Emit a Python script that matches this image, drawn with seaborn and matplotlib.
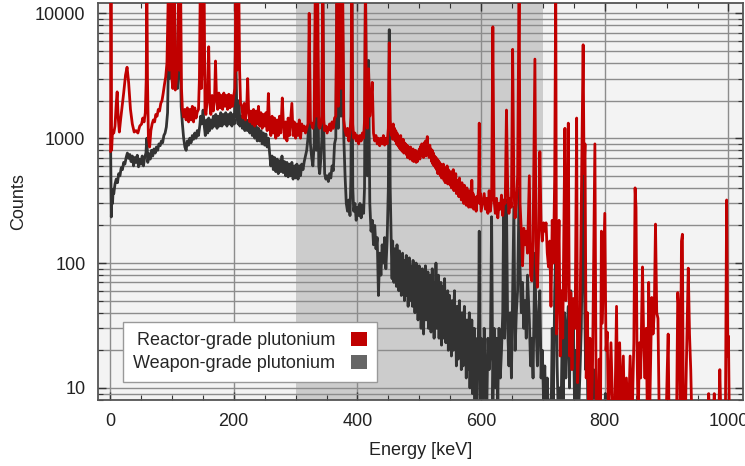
import matplotlib
matplotlib.use("Agg")
import matplotlib.pyplot as plt
import numpy as np
import pandas as pd
import seaborn as sns
from matplotlib.patches import Patch
from matplotlib.ticker import LogLocator, MultipleLocator, NullFormatter, FuncFormatter, FixedLocator

sns.set_style("ticks")
plt.rcParams['font.family'] = ['Liberation Sans', 'DejaVu Sans']

# ---------------- data ----------------
series_labels = ["Reactor-grade plutonium", "Weapon-grade plutonium"]
x_ticks = [0, 200, 400, 600, 800, 1000]
y_ticks = [10, 100, 1000, 10000]
shaded_band = [300, 700]

# Reactor-grade, 0 - 453 keV
reactor_low_energy = [
    0.8, 1.5, 2.5, 4, 6, 8, 10, 11.5, 13, 15,
    17, 19, 22, 25, 27.5, 30, 33, 36, 39, 42,
    45, 48, 51, 53, 55, 57, 58.5, 59.5, 60.5, 62,
    64, 66, 68, 70, 72, 74, 76, 78, 80, 82,
    84, 86, 88, 90, 92, 94.7, 96, 98.4, 100, 101.5,
    103.7, 105.5, 107, 109, 111, 112.5, 114, 115.5, 117, 119,
    121, 123, 125, 127, 129, 131, 133, 135, 137, 139,
    141, 143, 144.5, 146, 147.5, 149, 150.5, 152, 153.5, 155,
    157, 159.5, 161, 163, 165, 167, 169, 170.5, 172, 174,
    176, 178, 180, 182, 184, 186, 188, 190, 192, 194,
    196, 198, 200, 202, 203.5, 205, 206.5, 208, 209.5, 211,
    213, 215, 217, 219, 221, 222.5, 224, 226, 228, 230,
    232, 234, 236, 238, 240, 242, 244, 246, 248, 250,
    252, 254, 256, 258, 260, 262, 264, 266, 268, 270,
    272, 274, 276, 278.5, 280, 282, 284, 286, 288, 290,
    292, 294, 296, 298, 300, 302, 304, 306, 308, 310,
    312, 314, 316, 318, 320, 322, 324, 326, 328, 330,
    332, 333.5, 335.5, 337.5, 339, 341, 342.5, 344, 345.5, 347,
    349, 351, 353, 355, 357, 359, 361, 363, 365, 367,
    369, 371.5, 373.5, 376, 378, 380, 382, 384, 386, 388,
    389.5, 391, 392.5, 394, 396, 398, 400, 402, 404, 406,
    408, 410, 411.5, 413, 414.5, 416, 418, 420, 422, 424,
    426, 428, 430, 432, 434, 436, 438, 440, 442, 444,
    446, 448, 450, 451.5, 453,
]
reactor_low_counts = [
    780, 15000, 800, 1150, 1100, 1250, 1900, 2350, 1500, 1120,
    1400, 1700, 2300, 3200, 3700, 2800, 1700, 1300, 1120, 1150,
    1100, 1250, 1300, 1450, 1350, 1600, 3000, 20000, 3000, 1000,
    850, 1150, 1300, 1400, 1350, 1550, 1500, 1700, 1650, 1900,
    2000, 2300, 2700, 3100, 4000, 20000, 3500, 20000, 3000, 2500,
    20000, 2430, 2800, 4000, 20000, 3500, 20000, 2500, 1700, 1480,
    1700, 1400, 1750, 1350, 1700, 1400, 1800, 1350, 1750, 1450,
    1620, 1700, 3000, 20000, 2500, 3500, 20000, 20000, 1700, 1550,
    2000, 5400, 2000, 1550, 2200, 1650, 2100, 4150, 2200, 1700,
    2300, 1750, 2200, 1700, 2300, 1800, 2200, 1700, 2250, 1750,
    2200, 1800, 2200, 2500, 20000, 3500, 4500, 20000, 3500, 1900,
    1800, 1450, 1900, 1400, 1750, 3000, 1700, 1350, 1650, 1300,
    1700, 1250, 1650, 1300, 1800, 1250, 1600, 1200, 1550, 1250,
    1600, 1150, 2280, 1250, 1050, 1500, 1100, 1450, 1000, 1400,
    1050, 1500, 1100, 2100, 1400, 1000, 1350, 950, 1450, 1050,
    1400, 1900, 1050, 1350, 1000, 1300, 1050, 1400, 1000, 1300,
    1150, 1250, 1100, 1200, 1300, 10000, 1350, 1300, 1200, 1400,
    20000, 1500, 20000, 1250, 1200, 1300, 1500, 20000, 1400, 1150,
    1250, 1100, 1200, 1300, 1150, 1350, 1200, 1450, 1500, 20000,
    1800, 20000, 2500, 20000, 1400, 1150, 1050, 1200, 950, 1100,
    1500, 20000, 1300, 1000, 1100, 950, 1050, 900, 1050, 950,
    1100, 1000, 1400, 20000, 1800, 1200, 3600, 1500, 2000, 2800,
    1100, 950, 1050, 900, 1000, 870, 1000, 900, 1050, 880,
    1000, 900, 1200, 5800, 1400,
]

# Reactor-grade, 455 - 600 keV, one value per keV channel
reactor_mid_energy = list(range(455, 601))
reactor_mid_counts = [
    1050, 1250, 980, 1300, 1000, 1200, 950, 1150, 900, 1100,
    880, 1050, 850, 1000, 820, 1050, 800, 950, 780, 980,
    760, 920, 800, 900, 740, 880, 700, 860, 720, 840,
    680, 850, 700, 800, 660, 820, 650, 780, 680, 800,
    640, 760, 650, 780, 700, 820, 680, 860, 720, 900,
    750, 880, 700, 920, 760, 950, 720, 900, 1030, 780,
    850, 700, 880, 720, 820, 650, 800, 620, 760, 600,
    720, 580, 700, 560, 680, 520, 660, 540, 640, 500,
    620, 480, 600, 500, 620, 460, 580, 440, 560, 480,
    600, 430, 560, 450, 520, 420, 540, 400, 500, 420,
    560, 380, 480, 400, 520, 360, 460, 380, 440, 340,
    480, 360, 420, 320, 440, 330, 400, 300, 420, 320,
    380, 290, 400, 310, 360, 280, 380, 300, 350, 280,
    460, 300, 360, 270, 340, 290, 320, 260, 340, 300,
    350, 400, 1320, 300, 360, 260,
]

# Reactor-grade, 605 - 1002 keV
reactor_high_energy = [
    605, 607, 609, 611, 613, 615, 617, 619, 621, 623,
    625, 627, 629, 631, 633, 635, 637, 639, 641, 643,
    645, 647, 649, 651, 653, 655, 657, 659, 661.5, 663,
    665, 667, 669, 671, 673, 675, 678, 680, 682, 684,
    687, 689, 691, 693, 695, 697, 699, 701, 703, 705,
    707, 709, 711, 713, 715, 717, 719, 720.7, 722, 724,
    726, 728, 730, 732, 735.5, 737, 739, 741, 743, 745,
    747, 749, 752, 754.5, 756, 758, 760, 762, 765, 766.5,
    768, 770, 772, 774, 776, 778, 780, 784, 786, 789,
    791, 793, 794.5, 796, 800, 802, 804, 806, 810, 813,
    816, 819, 821, 824, 827, 830, 832, 835, 838, 841,
    844, 847, 849, 850.5, 852, 854, 856, 858, 859.5, 861,
    863, 865, 867, 869, 871, 873, 876, 878, 880, 882,
    884, 886, 888, 890, 899, 901, 902.5, 904, 916, 918,
    920, 922, 924, 925.5, 927, 930, 933, 935, 937, 939,
    941, 966, 968, 970, 975, 977, 979, 984, 986, 988,
    995, 997, 999, 1000, 1001.5,
]
reactor_high_counts = [
    360, 270, 330, 250, 380, 260, 330, 7800, 320, 250,
    330, 230, 300, 270, 350, 240, 320, 300, 1680, 400,
    250, 330, 280, 5150, 400, 230, 300, 500, 20000, 300,
    180, 95, 190, 140, 180, 120, 500, 80, 72, 150,
    4300, 100, 64, 160, 780, 200, 150, 210, 180, 210,
    120, 93, 150, 45, 220, 100, 500, 20000, 27, 70,
    220, 18, 60, 25, 1200, 50, 120, 1320, 18, 58,
    14, 52, 30, 1450, 11, 20, 40, 300, 5600, 520,
    900, 12, 40, 5, 25, 5, 12, 900, 8, 5,
    17, 5, 180, 33, 250, 20, 28, 5, 23, 6,
    5, 45, 5, 23, 6, 18, 5, 12, 5, 18,
    5, 23, 400, 280, 23, 5, 23, 12, 36, 93,
    23, 12, 30, 5, 70, 8, 53, 27, 40, 205,
    40, 36, 6, 5, 5, 14, 27, 5, 5, 58,
    40, 5, 150, 170, 6, 5, 27, 91, 27, 14,
    5, 5, 9, 5, 5, 9, 5, 5, 14, 5,
    5, 320, 18, 26, 5,
]

# Weapon-grade, 0 - 453 keV
weapon_low_energy = [
    1, 2, 3, 4, 5, 6, 8, 10, 12, 14,
    16, 18, 20, 22, 24, 26, 28, 30, 32, 34,
    36, 38, 40, 42, 44, 46, 48, 50, 52, 54,
    56, 58, 59.5, 61, 63, 65, 67, 69, 71, 73,
    75, 77, 79, 81, 83, 85, 87, 89, 91, 93,
    94.7, 96, 98.4, 100, 101.5, 103.7, 105.5, 107, 109, 111,
    113.5, 115, 117, 119, 121, 123, 125, 127, 129, 131,
    133, 135, 137, 139, 141, 143, 145, 146.5, 148, 150.5,
    152, 154, 156, 158, 159.5, 161, 163, 165, 167, 169,
    171, 173, 175, 177, 179, 181, 183, 185, 187, 189,
    191, 193, 195, 197, 199, 201, 203, 205, 207, 208.5,
    210, 212, 214, 216, 218, 220, 222, 224, 226, 228,
    230, 232, 234, 236, 238, 240, 242, 244, 246, 248,
    250, 252, 254, 256, 258, 260, 262, 264, 266, 268,
    270, 272, 274, 276, 278, 280, 282, 284, 286, 288,
    290, 292, 294, 296, 298, 300, 302, 304, 306, 308,
    310, 312, 314, 316, 318, 320, 322, 324, 326, 328,
    330, 332, 333.5, 335.5, 337.5, 339, 341, 342.5, 344, 345.5,
    347, 349, 351, 353, 355, 357, 359, 361, 363, 365,
    367, 369, 371.5, 373.5, 376, 378, 380, 382, 384, 386,
    388, 389.5, 391, 392.5, 394, 396, 398, 400, 402, 404,
    406, 408, 410, 411.5, 413, 414.5, 416, 418, 420, 422,
    424, 426, 428, 430, 432, 434, 436, 438, 440, 442,
    444, 446, 448, 450, 451.5, 453,
]
weapon_low_counts = [
    780, 234, 350, 300, 390, 360, 430, 470, 440, 520,
    500, 580, 560, 640, 620, 700, 760, 690, 740, 650,
    720, 600, 700, 640, 730, 590, 680, 620, 720, 600,
    700, 760, 1000, 640, 750, 680, 800, 720, 820, 760,
    850, 800, 900, 870, 950, 920, 1050, 1100, 1230, 1600,
    5000, 3000, 9000, 6000, 12000, 15000, 5000, 3000, 2500, 4000,
    5000, 1800, 1300, 1000, 850, 800, 950, 880, 1000, 920,
    1050, 980, 1100, 1000, 1150, 1050, 1250, 1500, 1300, 1680,
    1300, 1050, 1400, 1100, 1450, 1150, 1400, 1200, 1500, 1250,
    1550, 1200, 1500, 1250, 1600, 1250, 1550, 1300, 1600, 1250,
    1550, 1300, 1600, 1250, 1550, 1300, 6500, 1550, 1300, 2000,
    1250, 1500, 1200, 1450, 1150, 1400, 1150, 1400, 1100, 1350,
    1050, 1300, 1000, 1250, 950, 1200, 950, 1150, 900, 1100,
    880, 1080, 850, 1000, 760, 600, 720, 560, 700, 540,
    680, 520, 660, 540, 720, 530, 650, 500, 640, 490,
    620, 500, 640, 470, 600, 480, 620, 470, 600, 500,
    620, 560, 650, 720, 800, 1000, 2000, 900, 700, 600,
    900, 7000, 800, 6000, 600, 520, 700, 1000, 20000, 1200,
    520, 470, 500, 450, 520, 480, 600, 550, 900, 1000,
    15000, 1200, 15000, 1500, 9400, 1000, 500, 300, 260, 320,
    240, 500, 12000, 400, 260, 300, 220, 280, 240, 300,
    230, 290, 250, 400, 20000, 1500, 500, 4200, 300, 180,
    220, 140, 200, 130, 160, 55, 120, 80, 140, 100,
    160, 90, 150, 400, 7400, 400,
]

# Weapon-grade, 455 - 600 keV, one value per keV channel
weapon_mid_energy = list(range(455, 601))
weapon_mid_counts = [
    120, 75, 150, 90, 70, 130, 85, 110, 65, 140,
    80, 100, 60, 125, 75, 115, 55, 95, 120, 65,
    105, 50, 90, 70, 115, 55, 100, 45, 85, 110,
    50, 95, 60, 80, 45, 105, 55, 90, 40, 75,
    100, 45, 85, 35, 70, 95, 45, 80, 30, 65,
    90, 40, 27, 75, 55, 95, 35, 70, 45, 85,
    30, 65, 40, 80, 28, 60, 90, 35, 55, 25,
    70, 40, 100, 30, 60, 35, 80, 25, 55, 40,
    70, 22, 50, 30, 65, 25, 75, 35, 23, 55,
    30, 60, 20, 45, 55, 25, 40, 18, 50, 30,
    20, 45, 60, 22, 40, 15, 45, 25, 17, 40,
    50, 20, 35, 14, 40, 22, 15, 35, 45, 18,
    30, 12, 35, 20, 14, 30, 40, 10, 25, 15,
    35, 9, 25, 12, 30, 8, 20, 12, 5, 25,
    15, 40, 180, 12, 5, 25,
]

# Weapon-grade, 603 - 803 keV
weapon_high_energy = [
    603, 605, 607, 609, 611, 613, 615, 617, 619, 621,
    623, 625, 627, 629, 631, 633, 635, 636.5, 638, 641,
    643, 645, 647, 649, 651, 653, 655, 657, 659, 661.5,
    663, 665, 667, 669, 671, 673, 675, 678, 680, 682,
    684, 687, 689, 691, 693, 695, 697, 699, 701, 703,
    705, 707, 709, 711, 713, 715, 717, 719, 721, 723,
    725, 727, 729, 731, 733, 735, 737, 739, 741, 743,
    745, 747, 749, 751, 753, 755, 757, 760, 762, 765,
    767, 769, 771, 773, 776, 778, 780, 782, 784, 787,
    789, 791, 799, 801, 803,
]
weapon_high_counts = [
    5, 30, 12, 6, 25, 14, 20, 235, 8, 30,
    10, 25, 8, 30, 12, 20, 40, 300, 25, 320,
    30, 15, 40, 12, 60, 280, 20, 40, 60, 400,
    90, 40, 70, 30, 50, 25, 80, 35, 15, 25,
    12, 120, 30, 15, 40, 60, 12, 20, 8, 15,
    5, 12, 5, 8, 5, 30, 8, 60, 145, 15,
    5, 10, 5, 25, 8, 40, 12, 30, 45, 10,
    60, 15, 40, 8, 20, 10, 5, 14, 30, 520,
    70, 14, 30, 5, 5, 12, 5, 14, 5, 5,
    10, 5, 5, 9, 5,
]

reactor_df = pd.DataFrame({
    "energy": reactor_low_energy + reactor_mid_energy + reactor_high_energy,
    "counts": reactor_low_counts + reactor_mid_counts + reactor_high_counts,
})
weapon_df = pd.DataFrame({
    "energy": weapon_low_energy + weapon_mid_energy + weapon_high_energy,
    "counts": weapon_low_counts + weapon_mid_counts + weapon_high_counts,
})

# ---------------- style ----------------
red = "#c00000"
dark = "#333333"
legend_gray = "#666666"
grid_col = "#8c8c8c"

fig = plt.figure(figsize=(7.45, 4.66), dpi=100)
ax = fig.add_axes([98 / 745, 66 / 466, 645 / 745, 397 / 466])
ax.set_facecolor("#f3f3f3")
ax.axvspan(shaded_band[0], shaded_band[1], color="#cccccc", lw=0, zorder=0.2)

sns.lineplot(data=weapon_df, x="energy", y="counts", color=dark, lw=2.0,
             estimator=None, sort=False, ax=ax, zorder=2)
sns.lineplot(data=reactor_df, x="energy", y="counts", color=red, lw=2.0,
             estimator=None, sort=False, ax=ax, zorder=3)

ax.set_yscale("log")
ax.set_xlim(-19.5, 1023.5)
ax.set_ylim(8, 12100)

ax.xaxis.set_major_locator(FixedLocator(x_ticks))
ax.xaxis.set_minor_locator(MultipleLocator(50))
ax.yaxis.set_major_locator(FixedLocator(y_ticks))
ax.yaxis.set_minor_locator(LogLocator(base=10, subs=np.arange(2, 10)))
ax.yaxis.set_major_formatter(FuncFormatter(lambda v, p: f"{int(round(v))}"))
ax.yaxis.set_minor_formatter(NullFormatter())

ax.set_axisbelow(True)
ax.grid(which="both", axis="y", color=grid_col, lw=1.0)
ax.grid(which="major", axis="x", color=grid_col, lw=1.0)

ax.tick_params(which="both", direction="in", top=True, right=True,
               colors="#333333", labelcolor="#222222", labelsize=13)
ax.tick_params(which="major", length=6, width=1.0, pad=9)
ax.tick_params(which="minor", length=3.5, width=0.8)
for s in ax.spines.values():
    s.set_color("#555555")
    s.set_linewidth(1.3)

ax.set_xlabel("Energy [keV]", fontsize=13, color="#222222", labelpad=9)
ax.set_ylabel("Counts", fontsize=13, color="#222222", labelpad=6)

handles = [Patch(facecolor=red, edgecolor="none", label=series_labels[0]),
           Patch(facecolor=legend_gray, edgecolor="none", label=series_labels[1])]
leg = ax.legend(handles=handles, loc="lower left", bbox_to_anchor=(0.039, 0.045),
                borderaxespad=0, markerfirst=False, fontsize=13,
                handlelength=0.85, handleheight=0.85, handletextpad=0.9,
                labelspacing=0.3, borderpad=0.55, fancybox=False, framealpha=1)
leg.get_frame().set_edgecolor("#999999")
leg.get_frame().set_linewidth(1.0)

fig.savefig("out.png", dpi=100)
